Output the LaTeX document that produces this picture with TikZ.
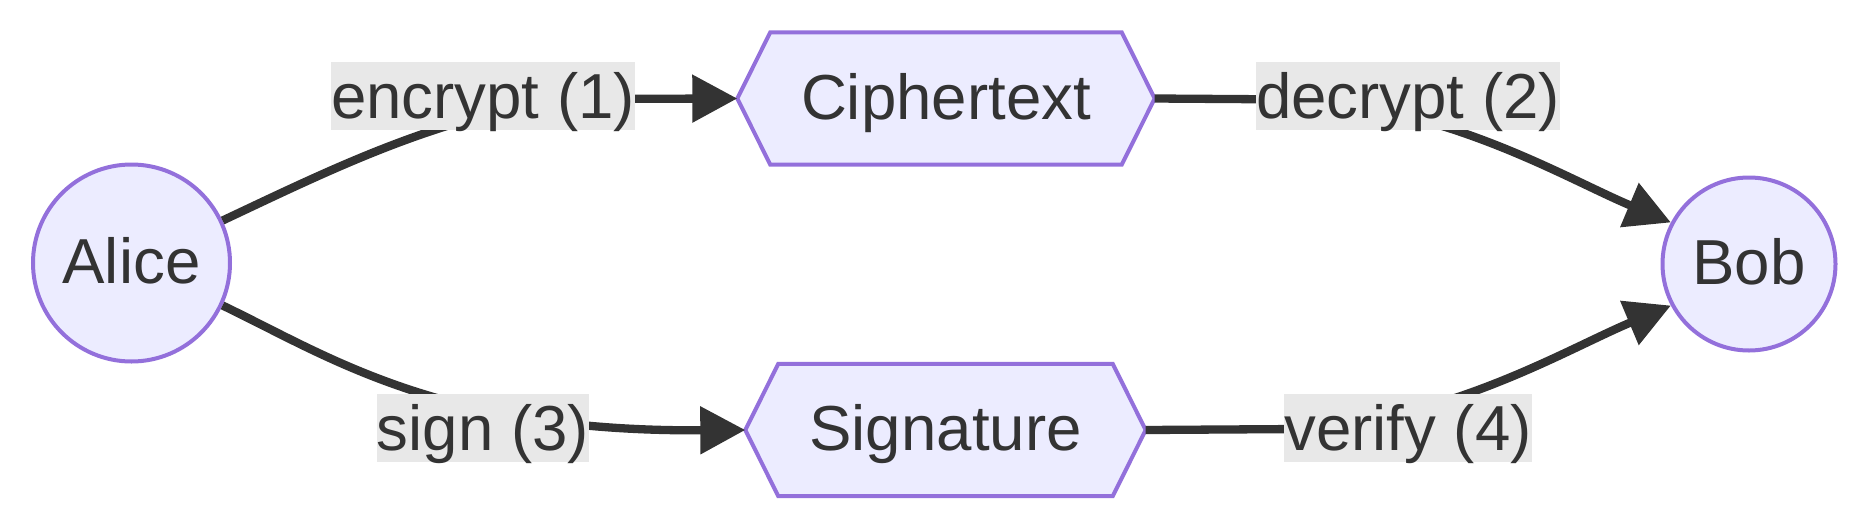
\documentclass[tikz,border=0pt]{standalone}
\usepackage{fontspec}
\setmainfont{Liberation Sans}
\usetikzlibrary{arrows.meta,backgrounds}
\definecolor{nodefill}{HTML}{ECECFF}
\definecolor{nodeline}{HTML}{9370DB}
\definecolor{ink}{HTML}{333333}
\definecolor{lblbg}{HTML}{E8E8E8}
\begin{document}
\begin{tikzpicture}[x=1pt,y=-1pt,
  every node/.style={font=\fontsize{63.6}{70}\selectfont, text=ink},
  person/.style={circle, fill=nodefill, draw=nodeline, line width=4pt, inner sep=0pt, text height=55pt, text depth=14pt},
  hexbox/.style={inner sep=0pt, minimum height=132pt, text height=55pt, text depth=14pt},
  hexline/.style={fill=nodefill, draw=nodeline, line width=4pt, line join=miter},
  edge/.style={draw=ink, line width=8.3pt, -{Triangle[length=45pt,width=46pt]}},
  elabel/.style={fill=lblbg, inner sep=0pt, text height=56pt, text depth=12pt}]
\useasboundingbox (0,0) rectangle (1864,528);
\node[person, minimum size=197pt] (alice) at (131.5,263) {Alice};
\node[person, minimum size=173pt] (bob) at (1749,264) {Bob};
\node[hexbox, minimum width=417pt] (cipher) at (946,98.5) {Ciphertext};
\node[hexbox, minimum width=400pt] (sig) at (945.5,430) {Signature};
\begin{scope}[on background layer]
\filldraw[hexline] (cipher.west) -- ([xshift=33pt]cipher.north west) -- ([xshift=-33pt]cipher.north east) -- (cipher.east) -- ([xshift=-33pt]cipher.south east) -- ([xshift=33pt]cipher.south west) -- cycle;
\filldraw[hexline] (sig.west) -- ([xshift=33pt]sig.north west) -- ([xshift=-33pt]sig.north east) -- (sig.east) -- ([xshift=-33pt]sig.south east) -- ([xshift=33pt]sig.south west) -- cycle;
\end{scope}
\draw[edge] (alice.25) .. controls (330,170) and (430,120) .. (560,99) -- (cipher.west);
\draw[edge] (alice.-25) .. controls (330,357) and (440,432) .. (sig.west);
\draw[edge] (cipher.east) -- (1300,99.5) .. controls (1450,108) and (1565,178) .. (bob.152);
\draw[edge] (sig.east) -- (1300,429) .. controls (1450,420) and (1565,350) .. (bob.208);
\node[elabel] (l1) at (483,96) {encrypt (1)};
\node[elabel] (l2) at (1408,96) {decrypt (2)};
\node[elabel] (l3) at (483,428) {sign (3)};
\node[elabel] (l4) at (1408,428) {verify (4)};
\end{tikzpicture}
\end{document}
